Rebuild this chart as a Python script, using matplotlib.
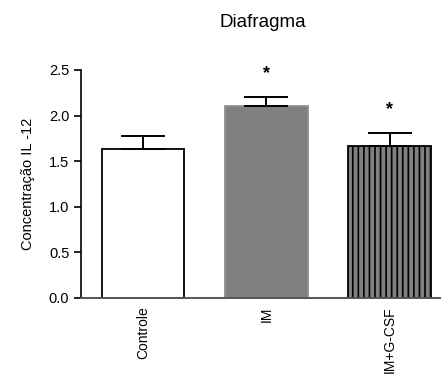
import matplotlib.pyplot as plt

plt.rcParams['font.family'] = ['Liberation Sans', 'DejaVu Sans']
plt.rcParams['hatch.color'] = 'black'
plt.rcParams['hatch.linewidth'] = 1.2

# data
groups = ['Controle', 'IM', 'IM+G-CSF']
means = [1.63, 2.10, 1.67]
sem = [0.145, 0.10, 0.14]
signif = ['', '*', '*']

fig = plt.figure(figsize=(4.41, 3.76), dpi=100)
ax = fig.add_axes([0.184, 0.208, 0.814, 0.606])

x = range(len(groups))
faces = ['white', '#808080', '#808080']
edges = ['black', '#909090', 'black']
hatches = ['', '', '|||']
for i in x:
    ax.bar(i, means[i], width=0.67, color=faces[i], edgecolor=edges[i],
           hatch=hatches[i], linewidth=1.3, zorder=2)

ax.errorbar(list(x), means, yerr=[[0] * len(sem), sem], fmt='none',
            ecolor='black', elinewidth=1.4, capsize=16, capthick=1.4, zorder=3)

for i in x:
    if signif[i]:
        ax.text(i, means[i] + sem[i] + 0.26, signif[i], ha='center', va='center',
                fontsize=13, fontweight='bold')

ax.set_xlim(-0.504, 2.41)
ax.set_ylim(0, 2.5)
ax.set_yticks([0, 0.5, 1.0, 1.5, 2.0, 2.5])
ax.set_yticklabels(['0.0', '0.5', '1.0', '1.5', '2.0', '2.5'])
ax.set_xticks(list(x))
ax.set_xticklabels(groups, rotation=90)
ax.tick_params(axis='x', length=0, labelsize=10, pad=6)
ax.tick_params(axis='y', length=5, width=1.2, labelsize=10.5, direction='out')
ax.spines['top'].set_visible(False)
ax.spines['right'].set_visible(False)
ax.spines['left'].set_linewidth(1.2)
ax.spines['bottom'].set_linewidth(1.4)
ax.spines['bottom'].set_color('#555555')

ax.set_ylabel('Concentração IL -12', fontsize=10.5, labelpad=10)
fig.text(0.597, 0.939, 'Diafragma', ha='center', va='center', fontsize=13.5)

fig.savefig('out.png', dpi=100)
